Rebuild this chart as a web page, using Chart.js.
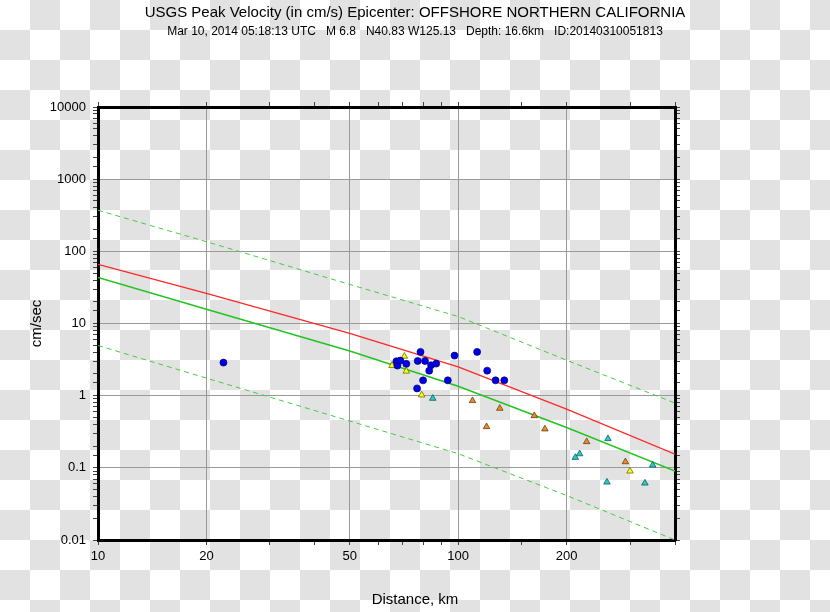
<!DOCTYPE html>
<html>
<head>
<meta charset="utf-8">
<script src="https://cdn.jsdelivr.net/npm/chart.js@4.4.1/dist/chart.umd.min.js"></script>
<style>
  html, body { margin: 0; padding: 0; }
  body {
    width: 830px; height: 612px; overflow: hidden;
    background-color: #fff;
    background-image: conic-gradient(#e2e2e2 25%, #fff 0 50%, #e2e2e2 0 75%, #fff 0);
    background-size: 60px 60px;
  }
  canvas { display: block; }
</style>
</head>
<body>
<canvas id="pgvChart" width="830" height="612"></canvas>
<script>
const titleText = 'USGS Peak Velocity (in cm/s) Epicenter: OFFSHORE NORTHERN CALIFORNIA';
const subtitleText = 'Mar 10, 2014 05:18:13 UTC   M 6.8   N40.83 W125.13   Depth: 16.6km   ID:20140310051813';
const xTitle = 'Distance, km';
const yTitle = 'cm/sec';

const xTickLabels = [10, 20, 50, 100, 200];
const yTickLabels = ['0.01', '0.1', '1', '10', '100', '1000', '10000'];

// stations (distance km, pgv cm/s)
const blueDist = [22.3, 67.4, 67.8, 69.1, 71.8, 78.6, 77.2, 80.9, 84.1, 86.9, 83.1, 79.9, 76.9, 93.6, 97.7, 112.9, 120.4, 127, 134.3];
const blueVel  = [2.87, 3.0, 2.61, 3.06, 2.76, 4.04, 3.03, 3.03, 2.64, 2.78, 2.22, 1.63, 1.26, 1.63, 3.59, 4.04, 2.22, 1.63, 1.63];

const yellowDist = [65.5, 70.9, 71.8, 79.2, 300];
const yellowVel  = [2.61, 3.51, 2.18, 1.02, 0.090];

const orangeDist = [109.6, 130.5, 119.9, 162.7, 174.1, 227.4, 291.3];
const orangeVel  = [0.852, 0.666, 0.371, 0.527, 0.345, 0.230, 0.121];

const cyanDist = [85.0, 211.5, 217.4, 260.5, 258.9, 330, 346.9];
const cyanVel  = [0.917, 0.139, 0.156, 0.253, 0.0633, 0.0613, 0.109];

// prediction curves
const curveDist   = [10, 20, 50, 100, 200, 400];
const redCurve    = [66, 26.2, 7.3, 2.5, 0.65, 0.155];
const greenCurve  = [43.5, 15.8, 4.15, 1.35, 0.363, 0.090];
const upperCurve  = [371, 136, 34.8, 12.5, 3.1, 0.79];
const lowerCurve  = [4.95, 1.75, 0.445, 0.157, 0.0414, 0.01];

const fontFamily = '"Liberation Sans", Arial, Helvetica, sans-serif';
Chart.defaults.font.family = fontFamily;
Chart.defaults.color = '#000';

function pairs(xs, ys) {
    return xs.map((x, i) => ({ x: x, y: ys[i] }));
}

function isXMajor(v) {
    return xTickLabels.some(t => Math.abs(t - v) < 1e-6 * t);
}

function yLabelFor(v) {
    const m = yTickLabels.find(l => Math.abs(Number(l) - v) < 1e-6 * v);
    return m || '';
}

function stationSet(data, style, radius, fill, edge) {
    return {
        type: 'scatter',
        data: data,
        pointStyle: style,
        pointRadius: radius,
        pointBackgroundColor: fill,
        pointBorderColor: edge,
        pointBorderWidth: 0.7,
        order: 1
    };
}

function curveSet(data, color, width, dash) {
    return {
        type: 'scatter',
        data: data,
        showLine: true,
        pointRadius: 0,
        borderColor: color,
        borderWidth: width,
        borderDash: dash || [],
        fill: false,
        tension: 0,
        order: 2
    };
}

const axisTitles = {
    id: 'axisTitles',
    afterDraw(chart) {
        const ctx = chart.ctx;
        ctx.save();
        ctx.fillStyle = '#000';
        ctx.font = '15px ' + fontFamily;
        ctx.textAlign = 'center';
        ctx.textBaseline = 'middle';
        ctx.fillText(xTitle, chart.width / 2, chart.height - 12);
        ctx.translate(37, (chart.chartArea.top + chart.chartArea.bottom) / 2);
        ctx.rotate(-Math.PI / 2);
        ctx.fillText(yTitle, 0, 0);
        ctx.restore();
    }
};

const gridColorX = c => isXMajor(c.tick ? c.tick.value : 0) ? '#9a9a9a' : 'rgba(0,0,0,0)';
const gridColorY = c => yLabelFor(c.tick ? c.tick.value : 0) ? '#9a9a9a' : 'rgba(0,0,0,0)';

new Chart(document.getElementById('pgvChart').getContext('2d'), {
    data: {
        datasets: [
            stationSet(pairs(blueDist, blueVel), 'circle', 3.5, '#0000e8', '#00006a'),
            stationSet(pairs(yellowDist, yellowVel), 'triangle', 3.8, '#ffff00', '#5a5a00'),
            stationSet(pairs(orangeDist, orangeVel), 'triangle', 3.8, '#e8892e', '#5a3000'),
            stationSet(pairs(cyanDist, cyanVel), 'triangle', 3.8, '#2cc8c8', '#005050'),
            curveSet(pairs(curveDist, redCurve), '#ff2626', 1.3),
            curveSet(pairs(curveDist, greenCurve), '#22c422', 1.5),
            curveSet(pairs(curveDist, upperCurve), '#44cc44', 1, [5, 4]),
            curveSet(pairs(curveDist, lowerCurve), '#44cc44', 1, [5, 4])
        ]
    },
    options: {
        responsive: false,
        animation: false,
        layout: { padding: 0 },
        plugins: {
            legend: { display: false },
            tooltip: { enabled: false },
            title: {
                display: true,
                text: titleText,
                color: '#000',
                font: { size: 15, weight: 'normal' },
                padding: { top: 4, bottom: 0 }
            },
            subtitle: {
                display: true,
                text: subtitleText,
                color: '#000',
                font: { size: 12, weight: 'normal' },
                padding: { top: 2, bottom: 0 }
            }
        },
        scales: {
            x: {
                type: 'logarithmic',
                position: 'bottom',
                min: 10,
                max: 400,
                afterFit: s => { s.height = 72; },
                border: { display: true, color: '#000', width: 3 },
                grid: { color: gridColorX, tickColor: '#444', tickLength: 5 },
                ticks: {
                    autoSkip: false,
                    maxRotation: 0,
                    padding: 4,
                    font: { size: 13 },
                    callback: v => isXMajor(v) ? String(v) : ''
                }
            },
            x2: {
                type: 'logarithmic',
                position: 'top',
                min: 10,
                max: 400,
                afterFit: s => { s.height = 68.6; },
                border: { display: true, color: '#000', width: 3 },
                grid: { drawOnChartArea: false, tickColor: '#444', tickLength: 5 },
                ticks: { autoSkip: false, maxRotation: 0, callback: () => '' }
            },
            y: {
                type: 'logarithmic',
                position: 'left',
                min: 0.01,
                max: 10000,
                afterFit: s => { s.width = 98; },
                border: { display: true, color: '#000', width: 3 },
                grid: { color: gridColorY, tickColor: '#444', tickLength: 5 },
                ticks: {
                    autoSkip: false,
                    padding: 7,
                    font: { size: 13 },
                    callback: v => yLabelFor(v)
                }
            },
            y2: {
                type: 'logarithmic',
                position: 'right',
                min: 0.01,
                max: 10000,
                afterFit: s => { s.width = 155; },
                border: { display: true, color: '#000', width: 3 },
                grid: { drawOnChartArea: false, tickColor: '#444', tickLength: 5 },
                ticks: { autoSkip: false, callback: () => '' }
            }
        }
    },
    plugins: [axisTitles]
});
</script>
</body>
</html>
